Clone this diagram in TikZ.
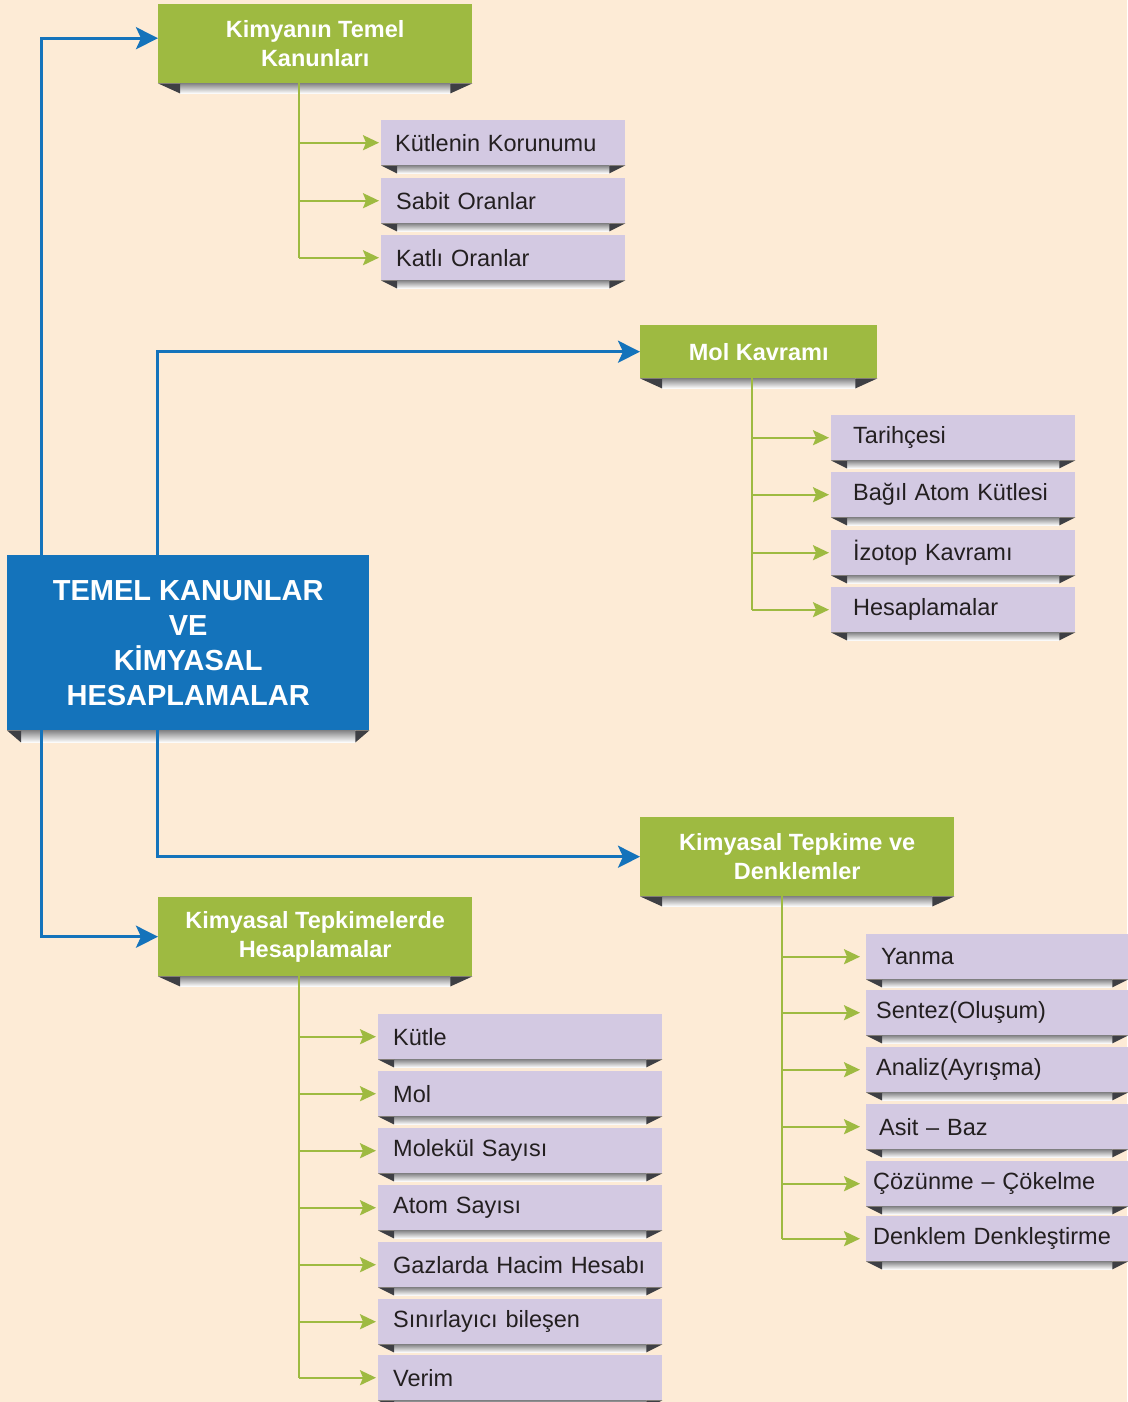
\documentclass[tikz,border=0pt]{standalone}
\usepackage{fontspec}
\setmainfont{Liberation Sans}
\usetikzlibrary{arrows.meta,calc}
\definecolor{cbg}{HTML}{FDEBD6}
\definecolor{cgreen}{HTML}{9EBA41}
\definecolor{cblue}{HTML}{1473BB}
\definecolor{clav}{HTML}{D3C9E2}
\definecolor{ctext}{HTML}{231F20}
\definecolor{cdark}{HTML}{3E3F44}
\definecolor{cribtop}{HTML}{858587}
\tikzset{
  greenbox/.style={fill=cgreen, text=white, font=\bfseries\fontsize{23.5}{29}\selectfont, align=center, inner sep=0pt, anchor=north west},
  mainbox/.style={fill=cblue, text=white, font=\bfseries\fontsize{29}{35}\selectfont, align=center, inner sep=0pt, anchor=north west},
  lavbox/.style={fill=clav, text=ctext, font=\fontsize{23.5}{28}\selectfont, align=left, inner ysep=0pt, anchor=north west, minimum height=45pt},
  bluearr/.style={draw=cblue, line width=3pt, -{Stealth[length=22pt,width=22pt,inset=5pt]}},
  greenl/.style={draw=cgreen, line width=2.3pt},
  greenarr/.style={draw=cgreen, line width=2.3pt, -{Stealth[length=16pt,width=15pt,inset=3pt]}, shorten >=2pt},
}
\newcommand\ribbon[3]{%
  \shade[top color=cribtop, bottom color=white] ($(#1.south west)+(#3,0)$) rectangle ($(#1.south east)+(-#3,#2)$);
  \fill[cdark] (#1.south west) -- ++(#3,0) -- ++(0,#2) -- cycle;
  \fill[cdark] (#1.south east) -- ++(-#3,0) -- ++(0,#2) -- cycle;}
\begin{document}
\begin{tikzpicture}[x=1pt,y=-1pt]
\fill[cbg] (0,0) rectangle (1127,1402);
\useasboundingbox (0,0) rectangle (1127,1402);

% main box
\node[mainbox, minimum width=362pt, minimum height=175pt] (main) at (7,555) {TEMEL KANUNLAR\\VE\\KİMYASAL\\HESAPLAMALAR};
% green boxes
\node[greenbox, minimum width=314pt, minimum height=79pt] (g1) at (158,4) {Kimyanın Temel\\Kanunları};
\node[greenbox, minimum width=237pt, minimum height=53pt] (g2) at (640,325) {Mol Kavramı};
\node[greenbox, minimum width=314pt, minimum height=79pt] (g3) at (640,817) {Kimyasal Tepkime ve\\Denklemler};
\node[greenbox, minimum width=314pt, minimum height=79pt] (g4) at (158,897) {Kimyasal Tepkimelerde\\Hesaplamalar};

% lavender boxes group 1
\node[lavbox, inner xsep=14pt, text width=216pt] (a1) at (381,120) {Kütlenin Korunumu};
\node[lavbox, inner xsep=15pt, text width=214pt] (a2) at (381,178) {Sabit Oranlar};
\node[lavbox, inner xsep=15pt, text width=214pt] (a3) at (381,235) {Katlı Oranlar};
% group 2
\node[lavbox, inner xsep=22pt, text width=200pt] (b1) at (831,415) {Tarihçesi};
\node[lavbox, inner xsep=22pt, text width=200pt] (b2) at (831,472) {Bağıl Atom Kütlesi};
\node[lavbox, inner xsep=22pt, text width=200pt] (b3) at (831,530) {İzotop Kavramı};
\node[lavbox, inner xsep=22pt, text width=200pt] (b4) at (831,587) {Hesaplamalar};
% group 3
\node[lavbox, inner xsep=15pt, text width=232pt] (c1) at (866,934) {Yanma};
\node[lavbox, inner xsep=10pt, text width=242pt] (c2) at (866,990) {Sentez(Oluşum)};
\node[lavbox, inner xsep=10pt, text width=242pt] (c3) at (866,1047) {Analiz(Ayrışma)};
\node[lavbox, inner xsep=13pt, text width=236pt] (c4) at (866,1104) {Asit -- Baz};
\node[lavbox, inner xsep=7pt, text width=248pt] (c5) at (866,1161) {Çözünme -- Çökelme};
\node[lavbox, inner xsep=7pt, text width=248pt] (c6) at (866,1216) {Denklem Denkleştirme};
% group 4
\node[lavbox, inner xsep=15pt, text width=254pt] (d1) at (378,1014) {Kütle};
\node[lavbox, inner xsep=15pt, text width=254pt] (d2) at (378,1071) {Mol};
\node[lavbox, inner xsep=15pt, text width=254pt] (d3) at (378,1128) {Molekül Sayısı};
\node[lavbox, inner xsep=15pt, text width=254pt] (d4) at (378,1185) {Atom Sayısı};
\node[lavbox, inner xsep=15pt, text width=254pt] (d5) at (378,1242) {Gazlarda Hacim Hesabı};
\node[lavbox, inner xsep=15pt, text width=254pt] (d6) at (378,1299) {Sınırlayıcı bileşen};
\node[lavbox, inner xsep=15pt, text width=254pt] (d7) at (378,1355) {Verim};

% ribbons
\ribbon{main}{12}{14}
\foreach \n in {g1,g2,g3,g4} {\ribbon{\n}{10}{22}}
\foreach \n in {a1,a2,a3,b1,b2,b3,b4,c1,c2,c3,c4,c5,c6,d1,d2,d3,d4,d5,d6,d7} {\ribbon{\n}{8}{16}}

% blue connectors
\draw[bluearr] ([xshift=34pt]main.north west) |- ([yshift=5.5pt]g1.west);
\draw[bluearr] ([xshift=150pt]main.north west) |- (g2.west);
\draw[bluearr] ([xshift=150pt]main.south west) |- (g3.west);
\draw[bluearr] ([xshift=34pt]main.south west) |- (g4.west);

% green connectors
\coordinate (t1) at ([xshift=-16pt]g1.south);
\draw[greenl] (t1) -- (t1 |- a3.west);
\foreach \n in {a1,a2,a3} {\draw[greenarr] (t1 |- \n.west) -- (\n.west);}
\coordinate (t2) at ([xshift=-6.5pt]g2.south);
\draw[greenl] (t2) -- (t2 |- b4.west);
\foreach \n in {b1,b2,b3,b4} {\draw[greenarr] (t2 |- \n.west) -- (\n.west);}
\coordinate (t3) at ([xshift=-15pt]g3.south);
\draw[greenl] (t3) -- (t3 |- c6.west);
\foreach \n in {c1,c2,c3,c4,c5,c6} {\draw[greenarr, shorten >=6pt] (t3 |- \n.west) -- (\n.west);}
\coordinate (t4) at ([xshift=-16pt]g4.south);
\draw[greenl] (t4) -- (t4 |- d7.west);
\foreach \n in {d1,d2,d3,d4,d5,d6,d7} {\draw[greenarr] (t4 |- \n.west) -- (\n.west);}
\end{tikzpicture}
\end{document}
